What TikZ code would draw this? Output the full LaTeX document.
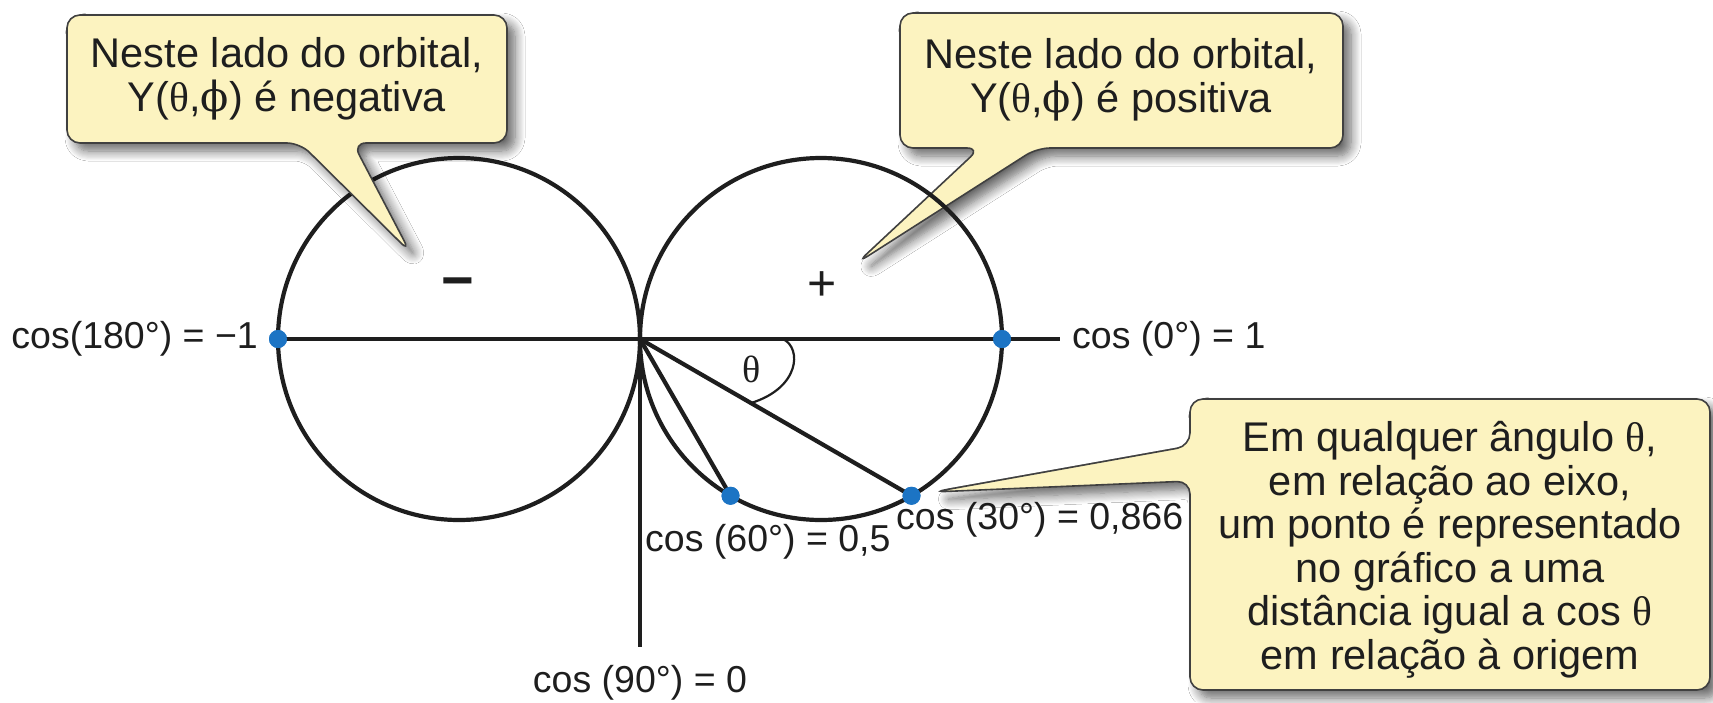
\documentclass[tikz,border=0pt]{standalone}
\usepackage{fontspec}
\setmainfont{Liberation Sans}
\newfontfamily\grk{Liberation Serif}
\newfontfamily\phif{DejaVu Serif}
\usetikzlibrary{shadows.blur}
\definecolor{callfill}{HTML}{FCF3C0}
\definecolor{dotblue}{HTML}{1C74C4}
\definecolor{ink}{HTML}{1E1E1E}
\begin{document}
\begin{tikzpicture}[x=1pt,y=-1pt,
  callout/.style={fill=callfill, draw=ink!85, line width=1.6pt, rounded corners=13pt,
    blur shadow={shadow xshift=8pt, shadow yshift=-8pt, shadow blur radius=10pt, shadow blur steps=10, shadow opacity=60}},
  calltext/.style={align=center, font=\fontsize{41.5}{43.5}\selectfont, text=ink, inner sep=0pt},
  lbl/.style={font=\fontsize{37.5}{40}\selectfont, text=ink, inner sep=0pt},
  curve/.style={line width=4.2pt, draw=ink},
  axisline/.style={line width=4.8pt, draw=ink},
  dot/.style={circle, fill=dotblue, minimum size=18pt, inner sep=0pt}
]
\fill[white] (0,0) rectangle (1713,702);
\useasboundingbox (0,0) rectangle (1713,702);

% callout 2 (behind the circle)
\path[callout] (1120,13) -- (1343,13) -- (1343,148) -- (1037,148) -- (857,263) -- (980,148) -- (900,148) -- (900,13) -- cycle;

% orbital lobes
\coordinate (O) at (640,339);
\coordinate (xend) at (1060,339);
\coordinate (yend) at (640,647);
\draw[curve] (459,339) circle[radius=181];
\draw[curve] (821,339) circle[radius=181];

\node[dot] (p180) at (278,339) {};
\node[dot] (p0) at (1002,339) {};
\node[dot] (p30) at (911.5,495.75) {};
\node[dot] (p60) at (730.5,495.75) {};

\draw[axisline] (p180.center) -- (xend);
\draw[axisline] (O) -- (yend);
\draw[curve] (O) -- (p30.center);
\draw[curve] (O) -- (p60.center);
\draw[line width=2.2pt, draw=ink] (783,339) .. controls (802,348) and (800,388) .. (751,403);

\node[dot] at (p180) {};
\node[dot] at (p0) {};
\node[dot] at (p30) {};
\node[dot] at (p60) {};

\node[font=\fontsize{56}{60}\selectfont\bfseries, text=ink, inner sep=0pt, anchor=base] (minus) at (458,299) {−};
\node[font=\fontsize{50}{54}\selectfont, text=ink, inner sep=0pt, anchor=base] (plus) at (822,300) {+};
\node[font=\fontsize{38}{40}\selectfont\grk, text=ink, inner sep=0pt] (theta) at (752,369) {θ};

\node[lbl, anchor=east] (l180) at (258,339) {cos(180°) = −1};
\node[lbl, anchor=west] (l0) at (1072,339) {cos (0°) = 1};
\node[lbl, anchor=west] (l60) at (645,542) {cos (60°) = 0,5};
\node[lbl, anchor=west] (l30) at (896,520) {cos (30°) = 0,866};
\node[lbl] (l90) at (640,683) {cos (90°) = 0};

% callout 1
\path[callout] (187,15) -- (507,15) -- (507,143) -- (353,143) -- (410,252) -- (300,143) -- (67,143) -- (67,15) -- cycle;
% callout 3
\path[callout] (1450,399) -- (1710,399) -- (1710,690) -- (1190,690) -- (1190,481) -- (933,492) -- (1190,446) -- (1190,399) -- cycle;

\node[calltext] (t1) at (287,79) {Neste lado do orbital,\\Y({\grk θ},{\phif ϕ}) é negativa};
\node[calltext] (t2) at (1121,80) {Neste lado do orbital,\\Y({\grk θ},{\phif ϕ}) é positiva};
\node[calltext] (t3) at (1450,550) {Em qualquer ângulo {\grk θ},\\em relação ao eixo,\\um ponto é representado\\no gráfico a uma\\distância igual a cos {\grk θ}\\em relação à origem};
\end{tikzpicture}
\end{document}
